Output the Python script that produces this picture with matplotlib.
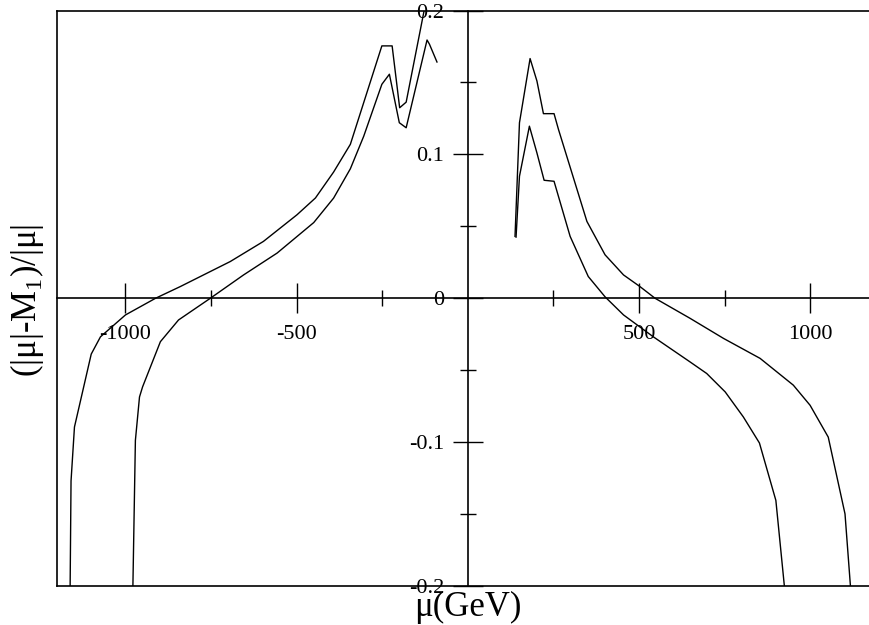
import matplotlib
matplotlib.use("Agg")
import matplotlib.pyplot as plt
from matplotlib.ticker import FixedLocator

plt.rcParams['font.family'] = ['Liberation Serif', 'DejaVu Serif']
plt.rcParams['axes.unicode_minus'] = False
plt.rcParams['mathtext.fontset'] = 'custom'
plt.rcParams['mathtext.rm'] = 'Liberation Serif'

# left branch (mu < 0), outer and inner curves
left_outer_x = [-1162, -1159, -1149, -1100, -1073, -1000, -912, -840, -694, -597,
                -499, -445, -392, -343, -251, -221, -199, -180, -125]
left_outer_y = [-0.21, -0.127, -0.0895, -0.0388, -0.0268, -0.0116, 0.0, 0.0081, 0.0255, 0.0395,
                0.058, 0.0697, 0.0877, 0.107, 0.1754, 0.1754, 0.1324, 0.1363, 0.203]

left_inner_x = [-979, -971, -959, -950, -898, -845, -752, -655, -557, -450,
                -392, -343, -304, -251, -229, -200, -180, -119, -112, -90]
left_inner_y = [-0.21, -0.0988, -0.0686, -0.0616, -0.0302, -0.0151, 0.0, 0.0162, 0.0314, 0.0526,
                0.0696, 0.09, 0.1126, 0.1487, 0.1557, 0.122, 0.1185, 0.1795, 0.1766, 0.1642]

# right branch (mu > 0)
right_outer_x = [138, 151, 182, 202, 221, 252, 265, 348, 401, 455,
                 503, 547, 649, 747, 854, 951, 1000, 1053, 1102, 1121]
right_outer_y = [0.043, 0.122, 0.1666, 0.151, 0.1283, 0.1283, 0.1173, 0.0534, 0.0302, 0.0162,
                 0.0081, 0.0, -0.0139, -0.0279, -0.0418, -0.0604, -0.0744, -0.0965, -0.1499, -0.21]

right_inner_x = [141, 151, 180, 202, 223, 252, 299, 352, 401, 455,
                 542, 649, 698, 752, 805, 852, 900, 929]
right_inner_y = [0.0425, 0.0848, 0.1196, 0.101, 0.082, 0.0813, 0.043, 0.0151, 0.001, -0.0116,
                 -0.0268, -0.0442, -0.0523, -0.0651, -0.0825, -0.1006, -0.1405, -0.21]

x_major = [-1000, -500, 500, 1000]
x_minor = [-750, -250, 250, 750]
y_major = [-0.2, -0.1, 0, 0.1, 0.2]
y_minor = [-0.15, -0.05, 0.05, 0.15]
y_labels = ['-0.2', '-0.1', '0', '0.1', '0.2']

fig = plt.figure(figsize=(8.7, 6.25), dpi=100)
W, H = 870, 625
ax = fig.add_axes([57 / W, 39 / H, 813 / W, 575.5 / H])

for xs, ys in [(left_outer_x, left_outer_y), (left_inner_x, left_inner_y),
               (right_outer_x, right_outer_y), (right_inner_x, right_inner_y)]:
    ax.plot(xs, ys, color='black', lw=1.0)

ax.set_xlim(-1200, 1175)
ax.set_ylim(-0.2, 0.2)

# axes through the origin
ax.spines['left'].set_position(('data', 0))
ax.spines['bottom'].set_position(('data', 0))
ax.spines['right'].set_visible(False)
ax.spines['top'].set_visible(False)
for s in ['left', 'bottom']:
    ax.spines[s].set_linewidth(1.2)

# outer frame (left, top, bottom)
frame_kw = dict(color='black', lw=1.2, transform=ax.transAxes, clip_on=False)
ax.plot([0, 0], [0, 1], **frame_kw)
ax.plot([0, 1], [1, 1], **frame_kw)
ax.plot([0, 1], [0, 0], **frame_kw)

ax.xaxis.set_major_locator(FixedLocator(x_major))
ax.xaxis.set_minor_locator(FixedLocator(x_minor))
ax.set_xticklabels([str(v) for v in x_major])
ax.yaxis.set_major_locator(FixedLocator(y_major))
ax.yaxis.set_minor_locator(FixedLocator(y_minor))
ax.set_yticklabels(y_labels)

ax.tick_params(which='major', direction='inout', length=22, width=1.0, labelsize=16, pad=6)
ax.tick_params(axis='x', which='major', pad=8)
ax.tick_params(which='minor', direction='inout', length=12, width=1.0)

fig.text(468 / W, 1 - 607 / H, 'μ(GeV)', ha='center', va='center', fontsize=25)
fig.text(27 / W, 1 - 300 / H, '(|μ|-M$_{\\mathregular{1}}$)/|μ|', ha='center', va='center',
         rotation=90, fontsize=25)

fig.savefig('out.png', dpi=100)
